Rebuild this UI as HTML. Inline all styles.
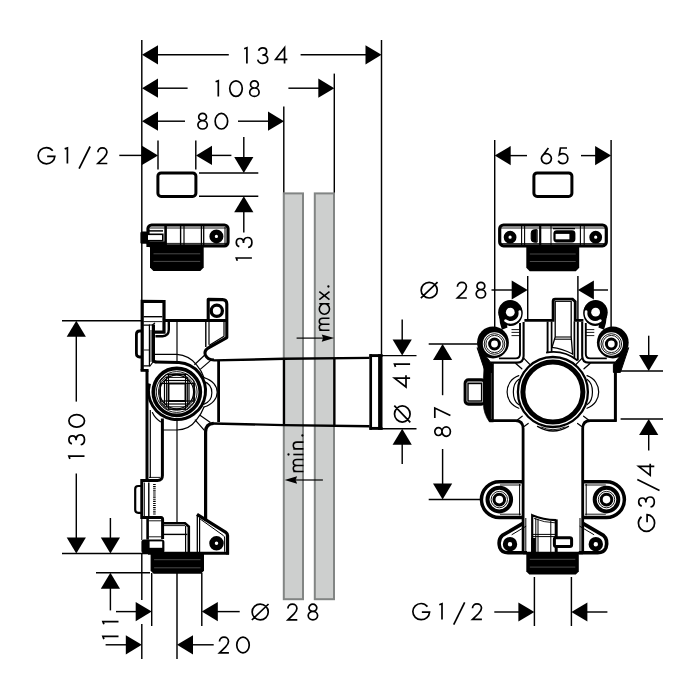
<!DOCTYPE html>
<html><head><meta charset="utf-8"><title>Dimension drawing</title>
<style>
html,body{margin:0;padding:0;background:#fff;}
body{width:700px;height:700px;overflow:hidden;font-family:"Liberation Sans",sans-serif;}
svg{display:block;}
</style></head><body>
<svg width="700" height="700" viewBox="0 0 700 700">
<rect x="0" y="0" width="700" height="700" fill="#fff"/>
<rect x="283.8" y="193.4" width="19.19999999999999" height="405.80000000000007" fill="#cdcfce" stroke="#828584" stroke-width="2.0"/>
<rect x="314.8" y="193.4" width="19.19999999999999" height="405.80000000000007" fill="#cdcfce" stroke="#828584" stroke-width="2.0"/>
<line x1="141.8" y1="40" x2="141.8" y2="300.5" stroke="#000" stroke-width="1.45" stroke-linecap="butt"/>
<line x1="381.5" y1="40" x2="381.5" y2="354" stroke="#000" stroke-width="1.45" stroke-linecap="butt"/>
<line x1="334.3" y1="73.6" x2="334.3" y2="192.6" stroke="#000" stroke-width="1.45" stroke-linecap="butt"/>
<line x1="283.8" y1="106.4" x2="283.8" y2="192.6" stroke="#000" stroke-width="1.45" stroke-linecap="butt"/>
<polygon points="142,54.8 158.0,45.199999999999996 158.0,64.39999999999999" fill="#000" stroke="#000" stroke-width="0" stroke-linejoin="round"/>
<line x1="157" y1="54.8" x2="228.8" y2="54.8" stroke="#000" stroke-width="1.45" stroke-linecap="butt"/>
<line x1="300.6" y1="54.8" x2="366" y2="54.8" stroke="#000" stroke-width="1.45" stroke-linecap="butt"/>
<polygon points="381.5,54.8 365.5,45.199999999999996 365.5,64.39999999999999" fill="#000" stroke="#000" stroke-width="0" stroke-linejoin="round"/>
<path transform="translate(246.90,47.80)" d="M-2.7,1.0L0,0L0,15.6" fill="none" stroke="#000" stroke-width="1.7" stroke-linejoin="miter" stroke-linecap="butt"/>
<path transform="translate(257.70,47.80)" d="M0.9,3.0C1.4,1.2 2.9,0 5,0C7.4,0 9.0,1.5 9.0,3.6C9.0,5.8 7.4,7.2 4.6,7.2C7.8,7.2 10.0,8.8 10.0,11.3C10.0,13.9 7.9,15.6 5.1,15.6C2.5,15.6 0.6,14.2 0,11.8" fill="none" stroke="#000" stroke-width="1.7" stroke-linejoin="miter" stroke-linecap="butt"/>
<path transform="translate(275.65,47.80)" d="M8.9,15.6L8.9,0L0,11.5L11.7,11.5" fill="none" stroke="#000" stroke-width="1.7" stroke-linejoin="miter" stroke-linecap="butt"/>
<polygon points="142,88.2 158.0,78.60000000000001 158.0,97.8" fill="#000" stroke="#000" stroke-width="0" stroke-linejoin="round"/>
<line x1="157" y1="88.2" x2="187.6" y2="88.2" stroke="#000" stroke-width="1.45" stroke-linecap="butt"/>
<line x1="288.4" y1="88.2" x2="319" y2="88.2" stroke="#000" stroke-width="1.45" stroke-linecap="butt"/>
<polygon points="334.3,88.2 318.3,78.60000000000001 318.3,97.8" fill="#000" stroke="#000" stroke-width="0" stroke-linejoin="round"/>
<path transform="translate(218.30,80.80)" d="M-2.7,1.0L0,0L0,15.6" fill="none" stroke="#000" stroke-width="1.7" stroke-linejoin="miter" stroke-linecap="butt"/>
<path transform="translate(229.75,80.80)" d="M0,7.8A6.25,7.8 0 1,0 12.5,7.8A6.25,7.8 0 1,0 0,7.8Z" fill="none" stroke="#000" stroke-width="1.7" stroke-linejoin="miter" stroke-linecap="butt"/>
<path transform="translate(249.70,80.80)" d="M0.8,3.6A3.9,3.6 0 1,0 8.6,3.6A3.9,3.6 0 1,0 0.8,3.6ZM0,11.4A4.7,4.2 0 1,0 9.4,11.4A4.7,4.2 0 1,0 0,11.4Z" fill="none" stroke="#000" stroke-width="1.7" stroke-linejoin="miter" stroke-linecap="butt"/>
<polygon points="142,121.2 158.0,111.60000000000001 158.0,130.8" fill="#000" stroke="#000" stroke-width="0" stroke-linejoin="round"/>
<line x1="157" y1="121.2" x2="185" y2="121.2" stroke="#000" stroke-width="1.45" stroke-linecap="butt"/>
<line x1="238" y1="121.2" x2="269" y2="121.2" stroke="#000" stroke-width="1.45" stroke-linecap="butt"/>
<polygon points="284,121.2 268.0,111.60000000000001 268.0,130.8" fill="#000" stroke="#000" stroke-width="0" stroke-linejoin="round"/>
<path transform="translate(197.90,113.40)" d="M0.8,3.6A3.9,3.6 0 1,0 8.6,3.6A3.9,3.6 0 1,0 0.8,3.6ZM0,11.4A4.7,4.2 0 1,0 9.4,11.4A4.7,4.2 0 1,0 0,11.4Z" fill="none" stroke="#000" stroke-width="1.7" stroke-linejoin="miter" stroke-linecap="butt"/>
<path transform="translate(215.15,113.40)" d="M0,7.8A6.25,7.8 0 1,0 12.5,7.8A6.25,7.8 0 1,0 0,7.8Z" fill="none" stroke="#000" stroke-width="1.7" stroke-linejoin="miter" stroke-linecap="butt"/>
<line x1="119.3" y1="155.4" x2="143" y2="155.4" stroke="#000" stroke-width="1.45" stroke-linecap="butt"/>
<polygon points="158,155.4 142.0,145.8 142.0,165.0" fill="#000" stroke="#000" stroke-width="0" stroke-linejoin="round"/>
<polygon points="196,155.4 212.0,145.8 212.0,165.0" fill="#000" stroke="#000" stroke-width="0" stroke-linejoin="round"/>
<line x1="211" y1="155.4" x2="231.4" y2="155.4" stroke="#000" stroke-width="1.45" stroke-linecap="butt"/>
<line x1="158" y1="140.4" x2="158" y2="169.4" stroke="#000" stroke-width="1.45" stroke-linecap="butt"/>
<line x1="195.8" y1="140.4" x2="195.8" y2="169.4" stroke="#000" stroke-width="1.45" stroke-linecap="butt"/>
<path transform="translate(38.15,147.90)" d="M14.6,2.8C13.0,0.9 10.9,-0.3 8.3,-0.3C3.7,-0.3 0,3.3 0,7.8C0,12.3 3.7,15.9 8.3,15.9C12.8,15.9 16.4,12.8 16.7,8.4L9.0,8.4" fill="none" stroke="#000" stroke-width="1.7" stroke-linejoin="miter" stroke-linecap="butt"/>
<path transform="translate(67.40,147.90)" d="M-2.7,1.0L0,0L0,15.6" fill="none" stroke="#000" stroke-width="1.7" stroke-linejoin="miter" stroke-linecap="butt"/>
<path transform="translate(79.10,147.90)" d="M11,-1.4L0,20.8" fill="none" stroke="#000" stroke-width="1.7" stroke-linejoin="miter" stroke-linecap="butt"/>
<path transform="translate(97.70,147.90)" d="M0.2,4.4C0.2,1.8 2.2,0 4.7,0C7.3,0 9.2,1.8 9.2,4.3C9.2,6.4 8.0,7.9 6.3,9.7L0.2,15.6L9.6,15.6" fill="none" stroke="#000" stroke-width="1.7" stroke-linejoin="miter" stroke-linecap="butt"/>
<rect x="157.9" y="172.9" width="38" height="23.6" rx="3.2" stroke="#000" stroke-width="3" fill="none"/>
<line x1="199" y1="173" x2="258.3" y2="173" stroke="#000" stroke-width="1.45" stroke-linecap="butt"/>
<line x1="199" y1="196.3" x2="258.3" y2="196.3" stroke="#000" stroke-width="1.45" stroke-linecap="butt"/>
<line x1="243.8" y1="137" x2="243.8" y2="158" stroke="#000" stroke-width="1.45" stroke-linecap="butt"/>
<polygon points="243.8,173 234.20000000000002,157.0 253.4,157.0" fill="#000" stroke="#000" stroke-width="0" stroke-linejoin="round"/>
<polygon points="243.8,196.3 234.20000000000002,212.3 253.4,212.3" fill="#000" stroke="#000" stroke-width="0" stroke-linejoin="round"/>
<line x1="243.8" y1="211.5" x2="243.8" y2="232.5" stroke="#000" stroke-width="1.45" stroke-linecap="butt"/>
<path transform="translate(236.30,247.50) rotate(-90)" d="M0.9,3.0C1.4,1.2 2.9,0 5,0C7.4,0 9.0,1.5 9.0,3.6C9.0,5.8 7.4,7.2 4.6,7.2C7.8,7.2 10.0,8.8 10.0,11.3C10.0,13.9 7.9,15.6 5.1,15.6C2.5,15.6 0.6,14.2 0,11.8" fill="none" stroke="#000" stroke-width="1.7" stroke-linejoin="miter" stroke-linecap="butt"/>
<path transform="translate(236.30,258.00) rotate(-90)" d="M-2.7,1.0L0,0L0,15.6" fill="none" stroke="#000" stroke-width="1.7" stroke-linejoin="miter" stroke-linecap="butt"/>
<line x1="62" y1="320.7" x2="142" y2="320.7" stroke="#000" stroke-width="1.45" stroke-linecap="butt"/>
<polygon points="76.3,320.7 66.7,336.7 85.89999999999999,336.7" fill="#000" stroke="#000" stroke-width="0" stroke-linejoin="round"/>
<line x1="76.3" y1="336" x2="76.3" y2="401.6" stroke="#000" stroke-width="1.45" stroke-linecap="butt"/>
<line x1="76.3" y1="473.5" x2="76.3" y2="538" stroke="#000" stroke-width="1.45" stroke-linecap="butt"/>
<polygon points="76.3,553.4 66.7,537.4 85.89999999999999,537.4" fill="#000" stroke="#000" stroke-width="0" stroke-linejoin="round"/>
<path transform="translate(68.90,456.20) rotate(-90)" d="M-2.7,1.0L0,0L0,15.6" fill="none" stroke="#000" stroke-width="1.7" stroke-linejoin="miter" stroke-linecap="butt"/>
<path transform="translate(68.90,444.80) rotate(-90)" d="M0.9,3.0C1.4,1.2 2.9,0 5,0C7.4,0 9.0,1.5 9.0,3.6C9.0,5.8 7.4,7.2 4.6,7.2C7.8,7.2 10.0,8.8 10.0,11.3C10.0,13.9 7.9,15.6 5.1,15.6C2.5,15.6 0.6,14.2 0,11.8" fill="none" stroke="#000" stroke-width="1.7" stroke-linejoin="miter" stroke-linecap="butt"/>
<path transform="translate(68.90,427.05) rotate(-90)" d="M0,7.8A6.25,7.8 0 1,0 12.5,7.8A6.25,7.8 0 1,0 0,7.8Z" fill="none" stroke="#000" stroke-width="1.7" stroke-linejoin="miter" stroke-linecap="butt"/>
<line x1="110.4" y1="518" x2="110.4" y2="538" stroke="#000" stroke-width="1.45" stroke-linecap="butt"/>
<polygon points="110.4,553.4 100.80000000000001,537.4 120.0,537.4" fill="#000" stroke="#000" stroke-width="0" stroke-linejoin="round"/>
<line x1="62" y1="553.4" x2="148" y2="553.4" stroke="#000" stroke-width="1.45" stroke-linecap="butt"/>
<line x1="96" y1="572.8" x2="150" y2="572.8" stroke="#000" stroke-width="1.45" stroke-linecap="butt"/>
<polygon points="110.4,572.8 100.80000000000001,588.8 120.0,588.8" fill="#000" stroke="#000" stroke-width="0" stroke-linejoin="round"/>
<line x1="110.4" y1="588" x2="110.4" y2="610.4" stroke="#000" stroke-width="1.45" stroke-linecap="butt"/>
<path transform="translate(102.90,636.40) rotate(-90)" d="M-2.7,1.0L0,0L0,15.6" fill="none" stroke="#000" stroke-width="1.7" stroke-linejoin="miter" stroke-linecap="butt"/>
<path transform="translate(102.90,621.60) rotate(-90)" d="M-2.7,1.0L0,0L0,15.6" fill="none" stroke="#000" stroke-width="1.7" stroke-linejoin="miter" stroke-linecap="butt"/>
<line x1="141.8" y1="554" x2="141.8" y2="600" stroke="#000" stroke-width="1.45" stroke-linecap="butt"/>
<line x1="141.8" y1="624" x2="141.8" y2="659" stroke="#000" stroke-width="1.45" stroke-linecap="butt"/>
<line x1="151.7" y1="573" x2="151.7" y2="626" stroke="#000" stroke-width="1.45" stroke-linecap="butt"/>
<line x1="201.8" y1="573" x2="201.8" y2="626" stroke="#000" stroke-width="1.45" stroke-linecap="butt"/>
<line x1="177" y1="573" x2="177" y2="659" stroke="#000" stroke-width="1.45" stroke-linecap="butt"/>
<line x1="116" y1="611.6" x2="136.5" y2="611.6" stroke="#000" stroke-width="1.45" stroke-linecap="butt"/>
<polygon points="151.7,611.6 135.7,602.0 135.7,621.2" fill="#000" stroke="#000" stroke-width="0" stroke-linejoin="round"/>
<polygon points="201.8,611.6 217.8,602.0 217.8,621.2" fill="#000" stroke="#000" stroke-width="0" stroke-linejoin="round"/>
<line x1="217" y1="611.6" x2="239.7" y2="611.6" stroke="#000" stroke-width="1.45" stroke-linecap="butt"/>
<path transform="translate(252.15,604.20)" d="M0,7.8A8.05,7.8 0 1,0 16.1,7.8A8.05,7.8 0 1,0 0,7.8ZM-0.3,15.8L16.4,-0.2" fill="none" stroke="#000" stroke-width="1.7" stroke-linejoin="miter" stroke-linecap="butt"/>
<path transform="translate(287.70,604.20)" d="M0.2,4.4C0.2,1.8 2.2,0 4.7,0C7.3,0 9.2,1.8 9.2,4.3C9.2,6.4 8.0,7.9 6.3,9.7L0.2,15.6L9.6,15.6" fill="none" stroke="#000" stroke-width="1.7" stroke-linejoin="miter" stroke-linecap="butt"/>
<path transform="translate(308.20,604.20)" d="M0.8,3.6A3.9,3.6 0 1,0 8.6,3.6A3.9,3.6 0 1,0 0.8,3.6ZM0,11.4A4.7,4.2 0 1,0 9.4,11.4A4.7,4.2 0 1,0 0,11.4Z" fill="none" stroke="#000" stroke-width="1.7" stroke-linejoin="miter" stroke-linecap="butt"/>
<line x1="105.6" y1="644.8" x2="126.5" y2="644.8" stroke="#000" stroke-width="1.45" stroke-linecap="butt"/>
<polygon points="141.8,644.8 125.80000000000001,635.1999999999999 125.80000000000001,654.4" fill="#000" stroke="#000" stroke-width="0" stroke-linejoin="round"/>
<polygon points="177,644.8 193.0,635.1999999999999 193.0,654.4" fill="#000" stroke="#000" stroke-width="0" stroke-linejoin="round"/>
<line x1="192.5" y1="644.8" x2="213.7" y2="644.8" stroke="#000" stroke-width="1.45" stroke-linecap="butt"/>
<path transform="translate(219.30,637.20)" d="M0.2,4.4C0.2,1.8 2.2,0 4.7,0C7.3,0 9.2,1.8 9.2,4.3C9.2,6.4 8.0,7.9 6.3,9.7L0.2,15.6L9.6,15.6" fill="none" stroke="#000" stroke-width="1.7" stroke-linejoin="miter" stroke-linecap="butt"/>
<path transform="translate(236.75,637.20)" d="M0,7.8A6.25,7.8 0 1,0 12.5,7.8A6.25,7.8 0 1,0 0,7.8Z" fill="none" stroke="#000" stroke-width="1.7" stroke-linejoin="miter" stroke-linecap="butt"/>
<line x1="296.6" y1="338.1" x2="323" y2="338.1" stroke="#000" stroke-width="1.2" stroke-linecap="butt"/>
<polygon points="334.2,338.1 321.7,334.40000000000003 323.09999999999997,338.1 321.7,341.8" fill="#000" stroke="#000" stroke-width="0" stroke-linejoin="round"/>
<line x1="296" y1="480" x2="322.9" y2="480" stroke="#000" stroke-width="1.2" stroke-linecap="butt"/>
<polygon points="284.6,480 297.1,476.3 295.70000000000005,480 297.1,483.7" fill="#000" stroke="#000" stroke-width="0" stroke-linejoin="round"/>
<path transform="translate(313.90,330.20) rotate(-90)" d="M0,15.6L0,5.4M0,9C0,6.8 1.2,5.4 3.0,5.4C4.9,5.4 6.0,6.8 6.0,9L6.0,15.6M6.0,9C6.0,6.8 7.2,5.4 9.0,5.4C10.9,5.4 12,6.8 12,9L12,15.6" fill="none" stroke="#000" stroke-width="1.6" stroke-linejoin="miter" stroke-linecap="butt"/>
<path transform="translate(313.90,314.20) rotate(-90)" d="M0,10.5A5.2,5.1 0 1,0 10.4,10.5A5.2,5.1 0 1,0 0,10.5ZM10.4,5.4L10.4,15.6" fill="none" stroke="#000" stroke-width="1.6" stroke-linejoin="miter" stroke-linecap="butt"/>
<path transform="translate(313.90,299.70) rotate(-90)" d="M0,5.4L8.0,15.6M8.0,5.4L0,15.6" fill="none" stroke="#000" stroke-width="1.6" stroke-linejoin="miter" stroke-linecap="butt"/>
<circle transform="translate(313.90,286.50) rotate(-90)" cx="0" cy="14.5" r="1.15" fill="#000"/>
<path transform="translate(287.90,471.50) rotate(-90)" d="M0,15.6L0,5.4M0,9C0,6.8 1.2,5.4 3.0,5.4C4.9,5.4 6.0,6.8 6.0,9L6.0,15.6M6.0,9C6.0,6.8 7.2,5.4 9.0,5.4C10.9,5.4 12,6.8 12,9L12,15.6" fill="none" stroke="#000" stroke-width="1.6" stroke-linejoin="miter" stroke-linecap="butt"/>
<circle transform="translate(287.90,454.50) rotate(-90)" cx="0" cy="0.6" r="1.15" fill="#000"/>
<path transform="translate(287.90,454.50) rotate(-90)" d="M0,5.4L0,15.6" fill="none" stroke="#000" stroke-width="1.6" stroke-linejoin="miter" stroke-linecap="butt"/>
<path transform="translate(287.90,448.90) rotate(-90)" d="M0,15.6L0,5.4M0,9C0,6.8 1.4,5.4 3.4,5.4C5.4,5.4 6.8,6.8 6.8,9L6.8,15.6" fill="none" stroke="#000" stroke-width="1.6" stroke-linejoin="miter" stroke-linecap="butt"/>
<circle transform="translate(287.90,435.50) rotate(-90)" cx="0" cy="14.5" r="1.15" fill="#000"/>
<path d="M214,360.4L284,358.8L369.6,357.9" stroke="#000" stroke-width="2.4" fill="none" stroke-linejoin="round" stroke-linecap="butt"/>
<path d="M213,423.5L284,425.1L369.6,426.2" stroke="#000" stroke-width="2.4" fill="none" stroke-linejoin="round" stroke-linecap="butt"/>
<line x1="284" y1="358.8" x2="284" y2="425.1" stroke="#000" stroke-width="2.3" stroke-linecap="butt"/>
<line x1="334.4" y1="358.4" x2="334.4" y2="425.5" stroke="#000" stroke-width="2.3" stroke-linecap="butt"/>
<line x1="370.7" y1="354.2" x2="370.7" y2="429.8" stroke="#000" stroke-width="2.7" stroke-linecap="butt"/>
<line x1="380.3" y1="354.2" x2="380.3" y2="429.8" stroke="#000" stroke-width="4.4" stroke-linecap="butt"/>
<line x1="369.4" y1="355.6" x2="382.5" y2="355.6" stroke="#000" stroke-width="2.9" stroke-linecap="butt"/>
<line x1="369.4" y1="428.4" x2="382.5" y2="428.4" stroke="#000" stroke-width="2.9" stroke-linecap="butt"/>
<line x1="382" y1="355.6" x2="416.5" y2="355.6" stroke="#000" stroke-width="1.45" stroke-linecap="butt"/>
<line x1="382" y1="428.7" x2="416.5" y2="428.7" stroke="#000" stroke-width="1.45" stroke-linecap="butt"/>
<line x1="402.2" y1="319.5" x2="402.2" y2="340" stroke="#000" stroke-width="1.45" stroke-linecap="butt"/>
<polygon points="402.2,355.6 392.59999999999997,339.6 411.8,339.6" fill="#000" stroke="#000" stroke-width="0" stroke-linejoin="round"/>
<polygon points="402.2,428.7 392.59999999999997,444.7 411.8,444.7" fill="#000" stroke="#000" stroke-width="0" stroke-linejoin="round"/>
<line x1="402.2" y1="444" x2="402.2" y2="464" stroke="#000" stroke-width="1.45" stroke-linecap="butt"/>
<path transform="translate(394.50,422.05) rotate(-90)" d="M0,7.8A8.05,7.8 0 1,0 16.1,7.8A8.05,7.8 0 1,0 0,7.8ZM-0.3,15.8L16.4,-0.2" fill="none" stroke="#000" stroke-width="1.7" stroke-linejoin="miter" stroke-linecap="butt"/>
<path transform="translate(394.50,386.95) rotate(-90)" d="M8.9,15.6L8.9,0L0,11.5L11.7,11.5" fill="none" stroke="#000" stroke-width="1.7" stroke-linejoin="miter" stroke-linecap="butt"/>
<path transform="translate(394.50,364.20) rotate(-90)" d="M-2.7,1.0L0,0L0,15.6" fill="none" stroke="#000" stroke-width="1.7" stroke-linejoin="miter" stroke-linecap="butt"/>
<line x1="494.7" y1="140" x2="494.7" y2="327" stroke="#000" stroke-width="1.45" stroke-linecap="butt"/>
<line x1="611.1" y1="140" x2="611.1" y2="327" stroke="#000" stroke-width="1.45" stroke-linecap="butt"/>
<polygon points="494.7,155.6 510.7,146.0 510.7,165.2" fill="#000" stroke="#000" stroke-width="0" stroke-linejoin="round"/>
<line x1="510" y1="155.6" x2="527" y2="155.6" stroke="#000" stroke-width="1.45" stroke-linecap="butt"/>
<line x1="581" y1="155.6" x2="596" y2="155.6" stroke="#000" stroke-width="1.45" stroke-linecap="butt"/>
<polygon points="611.1,155.6 595.1,146.0 595.1,165.2" fill="#000" stroke="#000" stroke-width="0" stroke-linejoin="round"/>
<path transform="translate(541.40,148.00)" d="M7.0,0L1.0,8.0M0,10.6A5,5 0 1,0 10,10.6A5,5 0 1,0 0,10.6Z" fill="none" stroke="#000" stroke-width="1.7" stroke-linejoin="miter" stroke-linecap="butt"/>
<path transform="translate(558.20,148.00)" d="M8.8,0L2.2,0L1.1,6.8C2.2,6.0 3.4,5.6 4.7,5.6C7.6,5.6 9.6,7.7 9.6,10.5C9.6,13.4 7.5,15.6 4.7,15.6C2.5,15.6 0.8,14.4 0,12.6" fill="none" stroke="#000" stroke-width="1.7" stroke-linejoin="miter" stroke-linecap="butt"/>
<rect x="533.9" y="172.9" width="38" height="23.6" rx="3.2" stroke="#000" stroke-width="3" fill="none"/>
<line x1="491.5" y1="290" x2="512.5" y2="290" stroke="#000" stroke-width="1.45" stroke-linecap="butt"/>
<polygon points="527.7,290 511.70000000000005,280.4 511.70000000000005,299.6" fill="#000" stroke="#000" stroke-width="0" stroke-linejoin="round"/>
<polygon points="577.9,290 593.9,280.4 593.9,299.6" fill="#000" stroke="#000" stroke-width="0" stroke-linejoin="round"/>
<line x1="593" y1="290" x2="608" y2="290" stroke="#000" stroke-width="1.45" stroke-linecap="butt"/>
<line x1="527.7" y1="276" x2="527.7" y2="320" stroke="#000" stroke-width="1.45" stroke-linecap="butt"/>
<line x1="577.9" y1="276" x2="577.9" y2="320" stroke="#000" stroke-width="1.45" stroke-linecap="butt"/>
<path transform="translate(421.15,282.40)" d="M0,7.8A8.05,7.8 0 1,0 16.1,7.8A8.05,7.8 0 1,0 0,7.8ZM-0.3,15.8L16.4,-0.2" fill="none" stroke="#000" stroke-width="1.7" stroke-linejoin="miter" stroke-linecap="butt"/>
<path transform="translate(457.20,282.40)" d="M0.2,4.4C0.2,1.8 2.2,0 4.7,0C7.3,0 9.2,1.8 9.2,4.3C9.2,6.4 8.0,7.9 6.3,9.7L0.2,15.6L9.6,15.6" fill="none" stroke="#000" stroke-width="1.7" stroke-linejoin="miter" stroke-linecap="butt"/>
<path transform="translate(476.20,282.40)" d="M0.8,3.6A3.9,3.6 0 1,0 8.6,3.6A3.9,3.6 0 1,0 0.8,3.6ZM0,11.4A4.7,4.2 0 1,0 9.4,11.4A4.7,4.2 0 1,0 0,11.4Z" fill="none" stroke="#000" stroke-width="1.7" stroke-linejoin="miter" stroke-linecap="butt"/>
<line x1="428.7" y1="344" x2="478" y2="344" stroke="#000" stroke-width="1.45" stroke-linecap="butt"/>
<line x1="428.7" y1="499.4" x2="480" y2="499.4" stroke="#000" stroke-width="1.45" stroke-linecap="butt"/>
<polygon points="442.6,344 433.0,360.0 452.20000000000005,360.0" fill="#000" stroke="#000" stroke-width="0" stroke-linejoin="round"/>
<line x1="442.6" y1="359" x2="442.6" y2="395.2" stroke="#000" stroke-width="1.45" stroke-linecap="butt"/>
<line x1="442.6" y1="449" x2="442.6" y2="484.5" stroke="#000" stroke-width="1.45" stroke-linecap="butt"/>
<polygon points="442.6,499.4 433.0,483.4 452.20000000000005,483.4" fill="#000" stroke="#000" stroke-width="0" stroke-linejoin="round"/>
<path transform="translate(434.80,436.30) rotate(-90)" d="M0.8,3.6A3.9,3.6 0 1,0 8.6,3.6A3.9,3.6 0 1,0 0.8,3.6ZM0,11.4A4.7,4.2 0 1,0 9.4,11.4A4.7,4.2 0 1,0 0,11.4Z" fill="none" stroke="#000" stroke-width="1.7" stroke-linejoin="miter" stroke-linecap="butt"/>
<path transform="translate(434.80,418.00) rotate(-90)" d="M0,0L10,0L2.6,15.6" fill="none" stroke="#000" stroke-width="1.7" stroke-linejoin="miter" stroke-linecap="butt"/>
<line x1="620.6" y1="371" x2="663" y2="371" stroke="#000" stroke-width="1.45" stroke-linecap="butt"/>
<line x1="620.6" y1="419" x2="663" y2="419" stroke="#000" stroke-width="1.45" stroke-linecap="butt"/>
<line x1="648.7" y1="335.7" x2="648.7" y2="356" stroke="#000" stroke-width="1.45" stroke-linecap="butt"/>
<polygon points="648.7,371 639.1,355.0 658.3000000000001,355.0" fill="#000" stroke="#000" stroke-width="0" stroke-linejoin="round"/>
<polygon points="648.7,419 639.1,435.0 658.3000000000001,435.0" fill="#000" stroke="#000" stroke-width="0" stroke-linejoin="round"/>
<line x1="648.7" y1="434" x2="648.7" y2="450.5" stroke="#000" stroke-width="1.45" stroke-linecap="butt"/>
<path transform="translate(638.70,531.35) rotate(-90)" d="M14.6,2.8C13.0,0.9 10.9,-0.3 8.3,-0.3C3.7,-0.3 0,3.3 0,7.8C0,12.3 3.7,15.9 8.3,15.9C12.8,15.9 16.4,12.8 16.7,8.4L9.0,8.4" fill="none" stroke="#000" stroke-width="1.7" stroke-linejoin="miter" stroke-linecap="butt"/>
<path transform="translate(638.70,507.00) rotate(-90)" d="M0.9,3.0C1.4,1.2 2.9,0 5,0C7.4,0 9.0,1.5 9.0,3.6C9.0,5.8 7.4,7.2 4.6,7.2C7.8,7.2 10.0,8.8 10.0,11.3C10.0,13.9 7.9,15.6 5.1,15.6C2.5,15.6 0.6,14.2 0,11.8" fill="none" stroke="#000" stroke-width="1.7" stroke-linejoin="miter" stroke-linecap="butt"/>
<path transform="translate(638.70,490.50) rotate(-90)" d="M11,-1.4L0,20.8" fill="none" stroke="#000" stroke-width="1.7" stroke-linejoin="miter" stroke-linecap="butt"/>
<path transform="translate(638.70,475.35) rotate(-90)" d="M8.9,15.6L8.9,0L0,11.5L11.7,11.5" fill="none" stroke="#000" stroke-width="1.7" stroke-linejoin="miter" stroke-linecap="butt"/>
<line x1="494.3" y1="612" x2="519" y2="612" stroke="#000" stroke-width="1.45" stroke-linecap="butt"/>
<polygon points="534.4,612 518.4,602.4 518.4,621.6" fill="#000" stroke="#000" stroke-width="0" stroke-linejoin="round"/>
<polygon points="571.4,612 587.4,602.4 587.4,621.6" fill="#000" stroke="#000" stroke-width="0" stroke-linejoin="round"/>
<line x1="587" y1="612" x2="607.4" y2="612" stroke="#000" stroke-width="1.45" stroke-linecap="butt"/>
<line x1="534.4" y1="577" x2="534.4" y2="626" stroke="#000" stroke-width="1.45" stroke-linecap="butt"/>
<line x1="571.4" y1="577" x2="571.4" y2="626" stroke="#000" stroke-width="1.45" stroke-linecap="butt"/>
<path transform="translate(412.85,603.80)" d="M14.6,2.8C13.0,0.9 10.9,-0.3 8.3,-0.3C3.7,-0.3 0,3.3 0,7.8C0,12.3 3.7,15.9 8.3,15.9C12.8,15.9 16.4,12.8 16.7,8.4L9.0,8.4" fill="none" stroke="#000" stroke-width="1.7" stroke-linejoin="miter" stroke-linecap="butt"/>
<path transform="translate(442.00,603.80)" d="M-2.7,1.0L0,0L0,15.6" fill="none" stroke="#000" stroke-width="1.7" stroke-linejoin="miter" stroke-linecap="butt"/>
<path transform="translate(453.70,603.80)" d="M11,-1.4L0,20.8" fill="none" stroke="#000" stroke-width="1.7" stroke-linejoin="miter" stroke-linecap="butt"/>
<path transform="translate(472.30,603.80)" d="M0.2,4.4C0.2,1.8 2.2,0 4.7,0C7.3,0 9.2,1.8 9.2,4.3C9.2,6.4 8.0,7.9 6.3,9.7L0.2,15.6L9.6,15.6" fill="none" stroke="#000" stroke-width="1.7" stroke-linejoin="miter" stroke-linecap="butt"/>
<rect x="148.0" y="225.0" width="80.0" height="20.8" rx="3.6" stroke="#000" stroke-width="3.2" fill="#fff"/>
<rect x="140.4" y="231.4" width="7.6" height="12.4" rx="1.5" stroke="#000" stroke-width="0" fill="#000"/>
<polygon points="150,246.5 203.7,246.5 203.7,267.6 200.29999999999998,271 153.4,271 150,267.6" fill="#000" stroke="#000" stroke-width="0" stroke-linejoin="round"/>
<line x1="153.5" y1="253.8" x2="200.2" y2="253.8" stroke="#5c5c5c" stroke-width="0.8" stroke-linecap="butt"/>
<line x1="153.5" y1="261.4" x2="200.2" y2="261.4" stroke="#5c5c5c" stroke-width="0.8" stroke-linecap="butt"/>
<rect x="146.4" y="241.4" width="19.6" height="5.6" rx="0" stroke="#000" stroke-width="0" fill="#000"/>
<rect x="147.2" y="234.3" width="15.6" height="6.4" rx="0" stroke="#000" stroke-width="1.6" fill="#fff"/>
<line x1="148.5" y1="230.9" x2="163" y2="230.9" stroke="#000" stroke-width="1.5" stroke-linecap="butt"/>
<line x1="165.6" y1="226" x2="165.6" y2="245.5" stroke="#000" stroke-width="2.6" stroke-linecap="butt"/>
<line x1="180.6" y1="226" x2="180.6" y2="245.5" stroke="#000" stroke-width="1.4" stroke-linecap="butt"/>
<line x1="184.0" y1="226" x2="184.0" y2="245.5" stroke="#000" stroke-width="1.2" stroke-linecap="butt"/>
<line x1="201.4" y1="226" x2="201.4" y2="245.5" stroke="#000" stroke-width="1.3" stroke-linecap="butt"/>
<line x1="203.7" y1="226" x2="203.7" y2="245.5" stroke="#000" stroke-width="1.3" stroke-linecap="butt"/>
<line x1="225.0" y1="227" x2="225.0" y2="244.5" stroke="#000" stroke-width="1.0" stroke-linecap="butt"/>
<line x1="150" y1="228.0" x2="226" y2="228.0" stroke="#000" stroke-width="0.9" stroke-linecap="butt"/>
<line x1="166" y1="243.4" x2="226" y2="243.4" stroke="#000" stroke-width="0.9" stroke-linecap="butt"/>
<circle cx="216.4" cy="236.4" r="4.3" stroke="#000" stroke-width="5.4" fill="#fff"/>
<path d="M142.2,370.6L142.2,301.3L164.0,301.5L164.0,332.2L154.6,332.2" stroke="#000" stroke-width="3.2" fill="none" stroke-linejoin="miter" stroke-linecap="butt"/>
<path d="M168.8,320.6L168.8,329.6Q168.8,336.2 162.6,336.2L155.4,336.2" stroke="#000" stroke-width="2.4" fill="none" stroke-linejoin="round" stroke-linecap="butt"/>
<line x1="143.5" y1="316.7" x2="162.4" y2="316.7" stroke="#000" stroke-width="1.4" stroke-linecap="butt"/>
<line x1="143.5" y1="321.6" x2="162.4" y2="321.6" stroke="#000" stroke-width="0.9" stroke-linecap="butt"/>
<path d="M141.6,331.0L139.6,331.0Q136.4,331.0 136.4,334.4L136.4,353.6Q136.4,357.0 139.6,357.0L141.6,357.0" stroke="#000" stroke-width="2.8" fill="none" stroke-linejoin="round" stroke-linecap="butt"/>
<path d="M143.8,325.2L149.4,325.2L149.4,365.9L143.8,365.9" stroke="#000" stroke-width="1.2" fill="none" stroke-linejoin="miter" stroke-linecap="round"/>
<path d="M149.4,325.0L152.4,325.0L154.6,323.2" stroke="#000" stroke-width="1.2" fill="none" stroke-linejoin="round" stroke-linecap="round"/>
<path d="M153.4,324.6L153.4,360.6Q153.6,361.9 156.2,361.9" stroke="#000" stroke-width="3.2" fill="none" stroke-linejoin="round" stroke-linecap="butt"/>
<line x1="151.0" y1="330" x2="151.0" y2="362" stroke="#000" stroke-width="0.9" stroke-linecap="butt"/>
<line x1="143.8" y1="350" x2="149.4" y2="350" stroke="#000" stroke-width="0.9" stroke-linecap="butt"/>
<path d="M150.0,366.0L153.0,362.0" stroke="#000" stroke-width="1.2" fill="none" stroke-linejoin="round" stroke-linecap="round"/>
<path d="M140.6,370.4L148.6,370.4" stroke="#000" stroke-width="2.8" fill="none" stroke-linejoin="round" stroke-linecap="butt"/>
<path d="M164,320.5L226,320.5" stroke="#000" stroke-width="2.8" fill="none" stroke-linejoin="round" stroke-linecap="butt"/>
<path d="M208.2,320.6L208.2,299.4L222.6,299.6Q226.8,299.7 226.8,304L226.8,337.6L207.6,348.4Q203.8,351.2 205.4,355.2Q207.6,359.9 214,360.0" stroke="#000" stroke-width="3.1" fill="none" stroke-linejoin="round" stroke-linecap="butt"/>
<circle cx="216.8" cy="310.8" r="5.6" stroke="#000" stroke-width="3.3" fill="none"/>
<path d="M224.0,322L224.0,336.2L209.4,345.2" stroke="#000" stroke-width="1.2" fill="none" stroke-linejoin="round" stroke-linecap="round"/>
<line x1="205.8" y1="321.6" x2="205.8" y2="347" stroke="#000" stroke-width="1.4" stroke-linecap="butt"/>
<line x1="209.0" y1="321.6" x2="209.0" y2="344.8" stroke="#000" stroke-width="1.2" stroke-linecap="butt"/>
<path d="M155.5,361.9L179,362.6A28.5,28.5 0 1,1 149.5,383.6" stroke="#000" stroke-width="3.0" fill="none" stroke-linejoin="round" stroke-linecap="butt"/>
<circle cx="176.8" cy="391.9" r="23.5" stroke="#000" stroke-width="3.7" fill="none"/>
<circle cx="176.7" cy="392.0" r="20.4" stroke="#000" stroke-width="0.9" fill="none"/>
<circle cx="176.7" cy="392.0" r="18.3" stroke="#000" stroke-width="0.9" fill="none"/>
<circle cx="176.7" cy="392.0" r="16.9" stroke="#000" stroke-width="1.2" fill="none"/>
<polygon points="166.7,374.40000000000003 187.3,374.40000000000003 193.8,380.90000000000003 193.8,402.7 187.3,409.2 166.7,409.2 160.2,402.7 160.2,380.90000000000003" fill="none" stroke="#000" stroke-width="1.1" stroke-linejoin="round"/>
<rect x="168.5" y="374.2" width="17.0" height="35.0" rx="0" stroke="#000" stroke-width="1.1" fill="none"/>
<rect x="160.4" y="383.5" width="34.0" height="17.5" rx="0" stroke="#000" stroke-width="1.1" fill="none"/>
<rect x="164.5" y="380.5" width="24.5" height="23.5" rx="0" stroke="#000" stroke-width="1.2" fill="none"/>
<rect x="166.5" y="377.4" width="21.0" height="29.4" rx="0" stroke="#000" stroke-width="0.9" fill="none"/>
<rect x="168.5" y="383.5" width="17.0" height="17.5" rx="0" stroke="#000" stroke-width="1.9" fill="none"/>
<path d="M155,354.4L177,354.4Q189,355.4 196.4,364.6Q201.6,370.6 204,377.6" stroke="#000" stroke-width="1.2" fill="none" stroke-linejoin="round" stroke-linecap="round"/>
<path d="M177,321.6L177,363.4" stroke="#000" stroke-width="1.2" fill="none" stroke-linejoin="round" stroke-linecap="round"/>
<line x1="194.4" y1="364.8" x2="205.6" y2="354.2" stroke="#000" stroke-width="1.2" stroke-linecap="butt"/>
<line x1="200.2" y1="369.4" x2="211.6" y2="359.6" stroke="#000" stroke-width="1.2" stroke-linecap="butt"/>
<line x1="194.9" y1="419.6" x2="204.6" y2="430.6" stroke="#000" stroke-width="1.2" stroke-linecap="butt"/>
<line x1="200.0" y1="415.2" x2="210.4" y2="422.6" stroke="#000" stroke-width="1.2" stroke-linecap="butt"/>
<path d="M204,377.6C221.6,383 221.6,401.4 204,407" stroke="#000" stroke-width="1.2" fill="none" stroke-linejoin="round" stroke-linecap="round"/>
<path d="M203.6,381.4C214.6,385 214.6,400.6 203.6,404.4" stroke="#000" stroke-width="1.2" fill="none" stroke-linejoin="round" stroke-linecap="round"/>
<line x1="218.6" y1="360.3" x2="218.6" y2="422" stroke="#000" stroke-width="2.8" stroke-linecap="butt"/>
<path d="M213.6,423.4Q205.6,423.8 205.6,432L205.6,521" stroke="#000" stroke-width="3.2" fill="none" stroke-linejoin="round" stroke-linecap="butt"/>
<path d="M147.0,370.6L147.0,480" stroke="#000" stroke-width="3.0" fill="none" stroke-linejoin="round" stroke-linecap="butt"/>
<path d="M162.4,418.5L162.4,475.6Q162.4,480.6 157.4,480.6L141.8,480.6L141.8,517.4L161,517.4Q162.6,517.4 162.6,519.4L162.6,539" stroke="#000" stroke-width="3.0" fill="none" stroke-linejoin="miter" stroke-linecap="butt"/>
<line x1="150.3" y1="410" x2="150.3" y2="478" stroke="#000" stroke-width="1.2" stroke-linecap="butt"/>
<path d="M152.4,412.6Q155,418.4 160.4,421.8" stroke="#000" stroke-width="1.2" fill="none" stroke-linejoin="round" stroke-linecap="round"/>
<line x1="149" y1="477.4" x2="160" y2="477.4" stroke="#000" stroke-width="0.9" stroke-linecap="butt"/>
<line x1="177" y1="419.8" x2="177" y2="523.5" stroke="#000" stroke-width="1.2" stroke-linecap="butt"/>
<path d="M163.4,430.0L177,430.0Q189.6,429.4 196.4,419.8Q201.6,413.8 204,407" stroke="#000" stroke-width="1.2" fill="none" stroke-linejoin="round" stroke-linecap="round"/>
<path d="M141.2,486L138.2,486Q135.2,486 135.2,489L135.2,509.8Q135.2,512.8 138.2,512.8L141.2,512.8" stroke="#000" stroke-width="2.2" fill="none" stroke-linejoin="round" stroke-linecap="butt"/>
<line x1="144.4" y1="482.5" x2="144.4" y2="516" stroke="#000" stroke-width="0.9" stroke-linecap="butt"/>
<line x1="148.8" y1="482.5" x2="148.8" y2="516" stroke="#000" stroke-width="1.4" stroke-linecap="butt"/>
<line x1="154.4" y1="484" x2="154.4" y2="515" stroke="#000" stroke-width="2.6" stroke-dasharray="1.1,1.0"/>
<line x1="141.8" y1="517" x2="141.8" y2="540" stroke="#000" stroke-width="1.0" stroke-linecap="butt"/>
<line x1="148.5" y1="520.8" x2="161.5" y2="520.8" stroke="#000" stroke-width="0.9" stroke-linecap="butt"/>
<line x1="148.5" y1="536.8" x2="161.5" y2="536.8" stroke="#000" stroke-width="0.9" stroke-linecap="butt"/>
<line x1="164" y1="525.6" x2="185" y2="525.6" stroke="#000" stroke-width="0.9" stroke-linecap="butt"/>
<line x1="147.6" y1="518" x2="147.6" y2="539.6" stroke="#000" stroke-width="2.6" stroke-linecap="butt"/>
<path d="M162.6,523.2L185,523.2L188.8,526.6L188.8,552.6" stroke="#000" stroke-width="2.6" fill="none" stroke-linejoin="miter" stroke-linecap="butt"/>
<line x1="163.6" y1="534.4" x2="187.4" y2="534.4" stroke="#000" stroke-width="1.4" stroke-linecap="butt"/>
<line x1="185.6" y1="526" x2="185.6" y2="552" stroke="#000" stroke-width="1.2" stroke-linecap="butt"/>
<rect x="141.4" y="539.6" width="23" height="13.6" rx="2.5" stroke="#000" stroke-width="0" fill="#000"/>
<rect x="149.6" y="541.4" width="12.6" height="6.4" rx="0" stroke="#000" stroke-width="0" fill="#fff"/>
<line x1="148" y1="553.2" x2="229.0" y2="553.2" stroke="#000" stroke-width="3.0" stroke-linecap="butt"/>
<polygon points="150.6,553 204,553 204,570.8 201.0,573.8 153.6,573.8 150.6,570.8" fill="#000" stroke="#000" stroke-width="0" stroke-linejoin="round"/>
<line x1="154.1" y1="559.7" x2="200.5" y2="559.7" stroke="#5c5c5c" stroke-width="0.8" stroke-linecap="butt"/>
<line x1="154.1" y1="567.8" x2="200.5" y2="567.8" stroke="#5c5c5c" stroke-width="0.8" stroke-linecap="butt"/>
<path d="M197.0,514.4L225.8,532.4Q227.5,533.5 227.5,535.6L227.5,554.4" stroke="#000" stroke-width="3.3" fill="none" stroke-linejoin="round" stroke-linecap="butt"/>
<line x1="197.3" y1="514.8" x2="197.3" y2="552" stroke="#000" stroke-width="1.3" stroke-linecap="butt"/>
<line x1="199.6" y1="517.6" x2="199.6" y2="552" stroke="#000" stroke-width="1.2" stroke-linecap="butt"/>
<path d="M199.6,518.6L223.2,535.4Q224.6,536.4 224.6,538L224.6,551.4" stroke="#000" stroke-width="1.0" fill="none" stroke-linejoin="miter" stroke-linecap="round"/>
<circle cx="216.5" cy="543.3" r="4.5" stroke="#000" stroke-width="5.5" fill="#fff"/>
<rect x="499.7" y="225.0" width="106.6" height="20.8" rx="3.8" stroke="#000" stroke-width="3.2" fill="#fff"/>
<polygon points="526.3,246.6 579.2,246.6 579.2,267.8 575.8000000000001,271.2 529.6999999999999,271.2 526.3,267.8" fill="#000" stroke="#000" stroke-width="0" stroke-linejoin="round"/>
<line x1="529.8" y1="254.0" x2="575.7" y2="254.0" stroke="#5c5c5c" stroke-width="0.8" stroke-linecap="butt"/>
<line x1="529.8" y1="261.5" x2="575.7" y2="261.5" stroke="#5c5c5c" stroke-width="0.8" stroke-linecap="butt"/>
<circle cx="510.1" cy="237.2" r="4.0" stroke="#000" stroke-width="4.8" fill="#fff"/>
<circle cx="595.7" cy="237.2" r="4.0" stroke="#000" stroke-width="4.8" fill="#fff"/>
<line x1="501" y1="228" x2="605" y2="228" stroke="#000" stroke-width="0.9" stroke-linecap="butt"/>
<line x1="501" y1="243.6" x2="605" y2="243.6" stroke="#000" stroke-width="0.9" stroke-linecap="butt"/>
<line x1="521.6" y1="226" x2="521.6" y2="245.5" stroke="#000" stroke-width="1.1" stroke-linecap="butt"/>
<line x1="524.6" y1="226" x2="524.6" y2="245.5" stroke="#000" stroke-width="1.1" stroke-linecap="butt"/>
<line x1="580.4" y1="226" x2="580.4" y2="245.5" stroke="#000" stroke-width="1.1" stroke-linecap="butt"/>
<line x1="584.2" y1="226" x2="584.2" y2="245.5" stroke="#000" stroke-width="1.1" stroke-linecap="butt"/>
<path d="M536.8,229.7L534.5,229.7Q531.2,229.7 531.2,233L531.2,239Q531.2,242.2 534.5,242.2L536.8,242.2Z" stroke="#000" stroke-width="1.0" fill="#000" stroke-linejoin="round" stroke-linecap="round"/>
<line x1="540.2" y1="226" x2="540.2" y2="245.5" stroke="#000" stroke-width="2.2" stroke-linecap="butt"/>
<line x1="551" y1="226" x2="551" y2="245.5" stroke="#000" stroke-width="1.0" stroke-linecap="butt"/>
<rect x="554.6" y="231.4" width="19.6" height="9.8" rx="2.2" stroke="#000" stroke-width="2.4" fill="#000"/>
<rect x="555.6" y="233.9" width="13.8" height="5.4" rx="0" stroke="#000" stroke-width="0" fill="#fff"/>
<line x1="553" y1="228.6" x2="575" y2="228.6" stroke="#000" stroke-width="1.4" stroke-linecap="butt"/>
<path d="M524.4,320.4L553.1,320.4L553.1,301.2Q553.1,299.2 555.1,299.2L572.6,299.2L575.2,301.6L575.2,320.4L583.4,320.4" stroke="#000" stroke-width="2.8" fill="none" stroke-linejoin="miter" stroke-linecap="butt"/>
<path d="M555.2,301.4L555.2,337L552.0,347.4" stroke="#000" stroke-width="1.3" fill="none" stroke-linejoin="round" stroke-linecap="round"/>
<path d="M571.2,301.4L571.2,337L572.6,354" stroke="#000" stroke-width="1.3" fill="none" stroke-linejoin="round" stroke-linecap="round"/>
<line x1="555.2" y1="301.5" x2="571.2" y2="301.5" stroke="#000" stroke-width="0.9" stroke-linecap="butt"/>
<line x1="555.2" y1="337" x2="571.2" y2="337" stroke="#000" stroke-width="1.1" stroke-linecap="butt"/>
<line x1="554.6" y1="339.2" x2="571.4" y2="339.2" stroke="#000" stroke-width="1.1" stroke-linecap="butt"/>
<line x1="547.6" y1="321.5" x2="547.6" y2="352.6" stroke="#000" stroke-width="1.9" stroke-linecap="butt"/>
<line x1="551.6" y1="321.5" x2="551.6" y2="352.0" stroke="#000" stroke-width="1.7" stroke-linecap="butt"/>
<line x1="574.4" y1="321.5" x2="574.4" y2="358.4" stroke="#000" stroke-width="1.7" stroke-linecap="butt"/>
<line x1="577.8" y1="321.5" x2="577.8" y2="360.4" stroke="#000" stroke-width="1.9" stroke-linecap="butt"/>
<path d="M551.6,347.4Q562,348.4 572.6,354" stroke="#000" stroke-width="1.2" fill="none" stroke-linejoin="round" stroke-linecap="round"/>
<path d="M546.1,352.6A40,40 0 0,1 577.6,360.5" stroke="#000" stroke-width="1.7" fill="none" stroke-linejoin="round" stroke-linecap="butt"/>
<path d="M499,358.4L515.6,358.4Q520.0,358.4 520.0,354.0L520.0,323" stroke="#000" stroke-width="1.9" fill="none" stroke-linejoin="round" stroke-linecap="butt"/>
<path d="M490.6,362.6L517.0,362.6Q523.6,362.6 523.6,356L523.6,322" stroke="#000" stroke-width="2.1" fill="none" stroke-linejoin="round" stroke-linecap="butt"/>
<line x1="511.5" y1="329.6" x2="520.4" y2="329.6" stroke="#000" stroke-width="0.9" stroke-linecap="butt"/>
<line x1="511.5" y1="332.4" x2="520.4" y2="332.4" stroke="#000" stroke-width="0.9" stroke-linecap="butt"/>
<line x1="511.5" y1="335.6" x2="520.4" y2="335.6" stroke="#000" stroke-width="0.9" stroke-linecap="butt"/>
<path d="M523.2,357.6L530.0,364.6" stroke="#000" stroke-width="1.3" fill="none" stroke-linejoin="round" stroke-linecap="round"/>
<path d="M515.8,363.4L521.8,368.8" stroke="#000" stroke-width="1.3" fill="none" stroke-linejoin="round" stroke-linecap="round"/>
<path d="M489.5,420.6L515.5,420.6Q523.1,420.6 523.1,428.5L523.1,553" stroke="#000" stroke-width="2.8" fill="none" stroke-linejoin="round" stroke-linecap="butt"/>
<path d="M516.6,420.4L522.2,416.2" stroke="#000" stroke-width="1.2" fill="none" stroke-linejoin="round" stroke-linecap="round"/>
<path d="M523.4,427L528.2,423.4" stroke="#000" stroke-width="1.2" fill="none" stroke-linejoin="round" stroke-linecap="round"/>
<path d="M518.8,375.6C503.2,381 503.2,403 518.8,408.2" stroke="#000" stroke-width="1.2" fill="none" stroke-linejoin="round" stroke-linecap="round"/>
<path d="M518.6,379.4C511.6,384 511.6,400 518.6,404.6" stroke="#000" stroke-width="1.2" fill="none" stroke-linejoin="round" stroke-linecap="round"/>
<path d="M606.8,358.4L590.1999999999999,358.4Q585.8,358.4 585.8,354.0L585.8,323" stroke="#000" stroke-width="1.9" fill="none" stroke-linejoin="round" stroke-linecap="butt"/>
<path d="M615.1999999999999,362.6L588.8,362.6Q582.1999999999999,362.6 582.1999999999999,356L582.1999999999999,322" stroke="#000" stroke-width="2.1" fill="none" stroke-linejoin="round" stroke-linecap="butt"/>
<line x1="594.3" y1="329.6" x2="585.4" y2="329.6" stroke="#000" stroke-width="0.9" stroke-linecap="butt"/>
<line x1="594.3" y1="332.4" x2="585.4" y2="332.4" stroke="#000" stroke-width="0.9" stroke-linecap="butt"/>
<line x1="594.3" y1="335.6" x2="585.4" y2="335.6" stroke="#000" stroke-width="0.9" stroke-linecap="butt"/>
<path d="M582.5999999999999,357.6L575.8,364.6" stroke="#000" stroke-width="1.3" fill="none" stroke-linejoin="round" stroke-linecap="round"/>
<path d="M590.0,363.4L584.0,368.8" stroke="#000" stroke-width="1.3" fill="none" stroke-linejoin="round" stroke-linecap="round"/>
<path d="M616.3,420.6L590.3,420.6Q582.6999999999999,420.6 582.6999999999999,428.5L582.6999999999999,553" stroke="#000" stroke-width="2.8" fill="none" stroke-linejoin="round" stroke-linecap="butt"/>
<path d="M589.1999999999999,420.4L583.5999999999999,416.2" stroke="#000" stroke-width="1.2" fill="none" stroke-linejoin="round" stroke-linecap="round"/>
<path d="M582.4,427L577.5999999999999,423.4" stroke="#000" stroke-width="1.2" fill="none" stroke-linejoin="round" stroke-linecap="round"/>
<path d="M587.0,375.6C602.5999999999999,381 602.5999999999999,403 587.0,408.2" stroke="#000" stroke-width="1.2" fill="none" stroke-linejoin="round" stroke-linecap="round"/>
<path d="M587.1999999999999,379.4C594.1999999999999,384 594.1999999999999,400 587.1999999999999,404.6" stroke="#000" stroke-width="1.2" fill="none" stroke-linejoin="round" stroke-linecap="round"/>
<circle cx="552.9" cy="392.0" r="35.0" stroke="#000" stroke-width="2.3" fill="#fff"/>
<circle cx="552.9" cy="392.0" r="30.0" stroke="#000" stroke-width="5.0" fill="none"/>
<path d="M537.5,426.4Q553,435.6 568.5,426.4" stroke="#000" stroke-width="1.3" fill="none" stroke-linejoin="round" stroke-linecap="round"/>
<path d="M541,427.0Q553,432.6 565,427.0" stroke="#000" stroke-width="0.9" fill="none" stroke-linejoin="round" stroke-linecap="round"/>
<circle cx="510.3" cy="312.2" r="12.1" fill="#000"/>
<ellipse cx="510.7" cy="313.4" rx="11.9" ry="12.6" fill="#000"/>
<path d="M502.1,315.2Q502.3,322.2 504.7,328.59999999999997" stroke="#000" stroke-width="6.0" fill="none" stroke-linejoin="round" stroke-linecap="butt"/>
<path d="M519.76,311.52A9.1,9.1 0 0,1 505.58,320.55" stroke="#fff" stroke-width="2.7" fill="none" stroke-linejoin="round" stroke-linecap="round"/>
<circle cx="510.3" cy="312.2" r="4.4" fill="#fff"/>
<circle cx="595.6" cy="312.2" r="12.1" fill="#000"/>
<ellipse cx="595.2" cy="313.4" rx="11.9" ry="12.6" fill="#000"/>
<path d="M603.8000000000001,315.2Q603.6,322.2 601.2,328.59999999999997" stroke="#000" stroke-width="6.0" fill="none" stroke-linejoin="round" stroke-linecap="butt"/>
<path d="M600.32,320.55A9.1,9.1 0 0,1 586.14,311.52" stroke="#fff" stroke-width="2.7" fill="none" stroke-linejoin="round" stroke-linecap="round"/>
<circle cx="595.6" cy="312.2" r="4.4" fill="#fff"/>
<circle cx="493.0" cy="342.5" r="15.9" fill="#000"/>
<circle cx="494.5" cy="344.0" r="11.7" fill="#fff"/>
<circle cx="494.5" cy="344.0" r="10.3" stroke="#000" stroke-width="0.9" fill="none"/>
<circle cx="494.5" cy="344.0" r="8.6" stroke="#000" stroke-width="0.9" fill="none"/>
<circle cx="494.5" cy="344.0" r="4.9" stroke="#000" stroke-width="3.0" fill="none"/>
<circle cx="612.8" cy="342.5" r="15.9" fill="#000"/>
<circle cx="611.3" cy="344.0" r="11.7" fill="#fff"/>
<circle cx="611.3" cy="344.0" r="10.3" stroke="#000" stroke-width="0.9" fill="none"/>
<circle cx="611.3" cy="344.0" r="8.6" stroke="#000" stroke-width="0.9" fill="none"/>
<circle cx="611.3" cy="344.0" r="4.9" stroke="#000" stroke-width="3.0" fill="none"/>
<rect x="465.1" y="379.8" width="19.5" height="24.4" rx="3.4" stroke="#000" stroke-width="3.0" fill="#fff"/>
<rect x="468.0" y="383.5" width="13.6" height="17.5" rx="0" stroke="#000" stroke-width="1.4" fill="none"/>
<line x1="466.8" y1="382.0" x2="482" y2="382.0" stroke="#000" stroke-width="0.7" stroke-linecap="butt"/>
<line x1="466.8" y1="402.4" x2="482" y2="402.4" stroke="#000" stroke-width="0.7" stroke-linecap="butt"/>
<path d="M484.2,363.4L483.3,380L483.3,404Q483.6,414 489.4,421.9L493.5,421.9L493.5,363.4Z" stroke="#000" stroke-width="0.6" fill="#000" stroke-linejoin="round" stroke-linecap="round"/>
<line x1="491.4" y1="366" x2="491.4" y2="419" stroke="#666" stroke-width="0.6" stroke-linecap="butt"/>
<path d="M477.2,348L485.4,372.4L492.4,372.4L492.4,364.4L483.2,353Z" stroke="#000" stroke-width="1.0" fill="#000" stroke-linejoin="round" stroke-linecap="round"/>
<path d="M628.6,348L620.4,372.4L613.4,372.4L613.4,364.4L622.6,353Z" stroke="#000" stroke-width="1.0" fill="#000" stroke-linejoin="round" stroke-linecap="round"/>
<line x1="615.4" y1="363" x2="615.4" y2="421.8" stroke="#000" stroke-width="3.0" stroke-linecap="butt"/>
<path d="M523.2,481.7L499.3,481.7A17.9,17.9 0 0,0 499.3,517.5L523.2,517.5" stroke="#000" stroke-width="3.5" fill="none" stroke-linejoin="round" stroke-linecap="butt"/>
<line x1="500" y1="485.0" x2="521" y2="485.0" stroke="#000" stroke-width="0.9" stroke-linecap="butt"/>
<line x1="500" y1="514.2" x2="521" y2="514.2" stroke="#000" stroke-width="0.9" stroke-linecap="butt"/>
<line x1="519.6" y1="484" x2="519.6" y2="515.4" stroke="#000" stroke-width="1.0" stroke-linecap="butt"/>
<circle cx="499.3" cy="499.6" r="11.8" stroke="#000" stroke-width="4.0" fill="none"/>
<circle cx="499.3" cy="499.6" r="8.2" stroke="#000" stroke-width="0.9" fill="none"/>
<circle cx="499.3" cy="499.6" r="5.3" stroke="#000" stroke-width="3.0" fill="none"/>
<path d="M523.0,523.4L502.4,535.4Q497.6,539.6 499.8,547.6Q501.8,552.7 508,552.7L527,552.7" stroke="#000" stroke-width="3.6" fill="none" stroke-linejoin="round" stroke-linecap="butt"/>
<circle cx="510" cy="544.2" r="4.7" stroke="#000" stroke-width="5.0" fill="#fff"/>
<line x1="525.8" y1="518" x2="525.8" y2="552" stroke="#000" stroke-width="1.0" stroke-linecap="butt"/>
<path d="M525.8,526.4L512,534.6" stroke="#000" stroke-width="1.0" fill="none" stroke-linejoin="round" stroke-linecap="round"/>
<path d="M582.5999999999999,481.7L606.5,481.7A17.9,17.9 0 0,1 606.5,517.5L582.5999999999999,517.5" stroke="#000" stroke-width="3.5" fill="none" stroke-linejoin="round" stroke-linecap="butt"/>
<line x1="605.8" y1="485.0" x2="584.8" y2="485.0" stroke="#000" stroke-width="0.9" stroke-linecap="butt"/>
<line x1="605.8" y1="514.2" x2="584.8" y2="514.2" stroke="#000" stroke-width="0.9" stroke-linecap="butt"/>
<line x1="586.1999999999999" y1="484" x2="586.1999999999999" y2="515.4" stroke="#000" stroke-width="1.0" stroke-linecap="butt"/>
<circle cx="606.5" cy="499.6" r="11.8" stroke="#000" stroke-width="4.0" fill="none"/>
<circle cx="606.5" cy="499.6" r="8.2" stroke="#000" stroke-width="0.9" fill="none"/>
<circle cx="606.5" cy="499.6" r="5.3" stroke="#000" stroke-width="3.0" fill="none"/>
<path d="M582.8,523.4L603.4,535.4Q608.1999999999999,539.6 606.0,547.6Q604.0,552.7 597.8,552.7L578.8,552.7" stroke="#000" stroke-width="3.6" fill="none" stroke-linejoin="round" stroke-linecap="butt"/>
<circle cx="595.8" cy="544.2" r="4.7" stroke="#000" stroke-width="5.0" fill="#fff"/>
<line x1="580.0" y1="518" x2="580.0" y2="552" stroke="#000" stroke-width="1.0" stroke-linecap="butt"/>
<path d="M580.0,526.4L593.8,534.6" stroke="#000" stroke-width="1.0" fill="none" stroke-linejoin="round" stroke-linecap="round"/>
<path d="M532.2,553L532.2,515.2Q543,519.6 556.2,520.2" stroke="#000" stroke-width="2.2" fill="none" stroke-linejoin="miter" stroke-linecap="butt"/>
<line x1="556.2" y1="519.4" x2="556.2" y2="553" stroke="#000" stroke-width="3.0" stroke-linecap="butt"/>
<path d="M535.8,553L535.8,518.4" stroke="#000" stroke-width="1.0" fill="none" stroke-linejoin="round" stroke-linecap="round"/>
<path d="M538.0,553L538.0,519.4" stroke="#000" stroke-width="1.0" fill="none" stroke-linejoin="round" stroke-linecap="round"/>
<path d="M550.8,553L550.8,521.4" stroke="#000" stroke-width="1.0" fill="none" stroke-linejoin="round" stroke-linecap="round"/>
<path d="M534.4,518.6Q544,522.6 554.6,522.8" stroke="#000" stroke-width="0.9" fill="none" stroke-linejoin="round" stroke-linecap="round"/>
<line x1="533" y1="534.4" x2="556" y2="534.4" stroke="#000" stroke-width="1.0" stroke-linecap="butt"/>
<line x1="533" y1="536.6" x2="556" y2="536.6" stroke="#000" stroke-width="1.0" stroke-linecap="butt"/>
<rect x="531.2" y="538" width="4.6" height="15" rx="0" stroke="#000" stroke-width="0" fill="#000"/>
<rect x="554.4" y="537.8" width="17.2" height="8.8" rx="1.8" stroke="#000" stroke-width="3.0" fill="#fff"/>
<line x1="523" y1="553.0" x2="583" y2="553.0" stroke="#000" stroke-width="2.4" stroke-linecap="butt"/>
<polygon points="526.3,552.4 578.8,552.4 578.8,571.4 575.8,574.4 529.3,574.4 526.3,571.4" fill="#000" stroke="#000" stroke-width="0" stroke-linejoin="round"/>
<line x1="529.8" y1="559.3" x2="575.3" y2="559.3" stroke="#5c5c5c" stroke-width="0.8" stroke-linecap="butt"/>
<line x1="529.8" y1="567.1" x2="575.3" y2="567.1" stroke="#5c5c5c" stroke-width="0.8" stroke-linecap="butt"/>
</svg>
</body></html>
